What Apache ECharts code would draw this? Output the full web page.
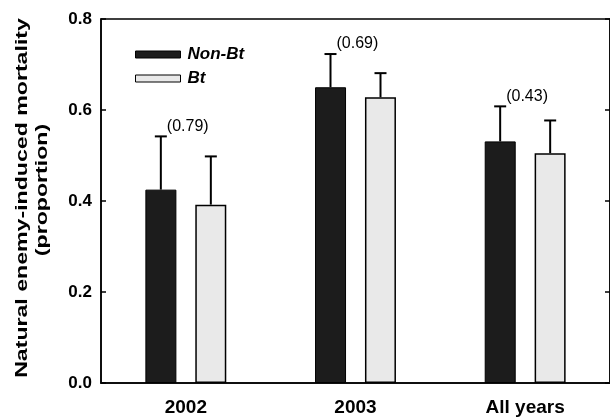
<!DOCTYPE html>
<html>
<head>
<meta charset="utf-8">
<script src="https://cdn.jsdelivr.net/npm/echarts@6/dist/echarts.min.js"></script>
<style>
  html, body { margin: 0; padding: 0; background: #fff; }
  #chart { width: 610px; height: 419px; }
</style>
</head>
<body>
<div id="chart"></div>
<script>
// data
var categories = ['2002', '2003', 'All years'];
var nonBt = [0.425, 0.650, 0.531];
var nonBtSE = [0.117, 0.073, 0.077];
var bt = [0.392, 0.628, 0.505];
var btSE = [0.106, 0.053, 0.072];
var pValues = ['(0.79)', '(0.69)', '(0.43)'];
var yTitle = ['Natural enemy-induced mortality', '(proportion)'];

var FONT = 'Liberation Sans, Arial, sans-serif';
var BAR_W = 31;
var OFFSET = 25; // half the distance between the two bar centres

function errorBars(vals, se, dir, labels) {
  return {
    type: 'custom',
    z: 5,
    data: vals.map(function (v, i) { return [i, v, v + se[i]]; }),
    renderItem: function (params, api) {
      var lo = api.coord([api.value(0), api.value(1)]);
      var hi = api.coord([api.value(0), api.value(2)]);
      var x = lo[0] + dir * OFFSET;
      var children = [
        { type: 'line', shape: { x1: x, y1: lo[1], x2: x, y2: hi[1] }, style: { stroke: '#000', lineWidth: 2 } },
        { type: 'line', shape: { x1: x - 6, y1: hi[1], x2: x + 6, y2: hi[1] }, style: { stroke: '#000', lineWidth: 2 } }
      ];
      if (labels) {
        children.push({
          type: 'text',
          style: {
            x: x + 6, y: hi[1] - 2,
            text: labels[params.dataIndex],
            font: '16px ' + FONT,
            fill: '#000',
            textAlign: 'left',
            textVerticalAlign: 'bottom'
          }
        });
      }
      return { type: 'group', children: children };
    }
  };
}

var chart = echarts.init(document.getElementById('chart'));
chart.setOption({
  backgroundColor: '#fff',
  animation: false,
  grid: { left: 101, right: -2, top: 19, bottom: 36, show: true, borderColor: '#000', borderWidth: 1.5 },
  // stretched rotated title, like the scanned original
  graphic: yTitle.map(function (t, i) {
    return {
      type: 'text', x: 22 + i * 20, y: i ? 190 : 198, rotation: Math.PI / 2, scaleX: 1.36,
      style: { text: t, font: 'bold 17px ' + FONT, fill: '#000', textAlign: 'center', textVerticalAlign: 'middle' }
    };
  }),
  legend: {
    left: 130, top: 41, orient: 'vertical', icon: 'rect',
    itemWidth: 45, itemHeight: 7, itemGap: 7,
    data: ['Non-Bt', 'Bt'],
    textStyle: { fontFamily: FONT, fontSize: 17, fontWeight: 'bold', fontStyle: 'italic', color: '#000', padding: [0, 0, 0, 2] },
    itemStyle: { borderColor: '#000', borderWidth: 1 }
  },
  xAxis: {
    type: 'category',
    data: categories,
    axisLine: { lineStyle: { color: '#000', width: 1.5 } },
    axisTick: { show: false },
    axisLabel: { color: '#000', fontFamily: FONT, fontSize: 19, fontWeight: 'bold', margin: 15 }
  },
  yAxis: [{
    type: 'value', min: 0, max: 0.8, interval: 0.2,
    axisLine: { show: true, lineStyle: { color: '#000', width: 1.5 } },
    axisTick: { show: true, inside: true, length: 5, lineStyle: { color: '#000', width: 1.5 } },
    axisLabel: {
      color: '#000', fontFamily: FONT, fontSize: 17, fontWeight: 'bold', margin: 9,
      formatter: function (v) { return v.toFixed(1); }
    },
    splitLine: { show: false }
  }, {
    type: 'value', min: 0, max: 0.8, interval: 0.2, position: 'right',
    axisLine: { show: true, lineStyle: { color: '#000', width: 1.5 } },
    axisTick: { show: true, inside: true, length: 5, lineStyle: { color: '#000', width: 1.5 } },
    axisLabel: { show: false },
    splitLine: { show: false }
  }],
  series: [
    {
      name: 'Non-Bt', type: 'bar', data: nonBt, barWidth: BAR_W, barGap: '61%',
      itemStyle: { color: '#1c1c1c', borderColor: '#000', borderWidth: 1 }
    },
    {
      name: 'Bt', type: 'bar', data: bt, barWidth: BAR_W,
      itemStyle: { color: '#e9e9e9', borderColor: '#000', borderWidth: 1.5 }
    },
    errorBars(nonBt, nonBtSE, -1, pValues),
    errorBars(bt, btSE, 1, null)
  ]
});
</script>
</body>
</html>
